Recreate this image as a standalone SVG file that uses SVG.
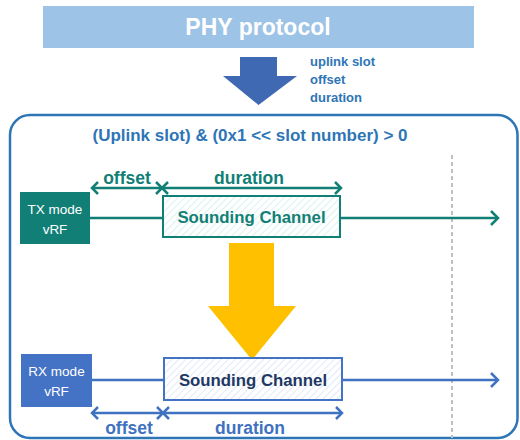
<svg xmlns="http://www.w3.org/2000/svg" width="520" height="440" viewBox="0 0 520 440">
<style>
text{font-family:"Liberation Sans",Arial,sans-serif;font-weight:bold}
.teal{fill:#127F76}
.blue{fill:#3F72C0}
.lbl{font-size:13.5px;font-weight:normal;fill:#fff}
.tl{stroke:#127F76;stroke-width:2.5;fill:none}
.bl{stroke:#3F72C0;stroke-width:2.5;fill:none}
</style>
<defs>
<pattern id="hT" width="5" height="5" patternUnits="userSpaceOnUse" patternTransform="rotate(45)">
<rect width="5" height="5" fill="#fff"/><line x1="0" y1="0" x2="0" y2="5" stroke="#CDEDEA" stroke-width="1.5"/>
</pattern>
<pattern id="hB" width="5" height="5" patternUnits="userSpaceOnUse" patternTransform="rotate(45)">
<rect width="5" height="5" fill="#fff"/><line x1="0" y1="0" x2="0" y2="5" stroke="#D6E3F3" stroke-width="1.5"/>
</pattern>
</defs>

<g id="phy">
<rect x="43" y="6" width="431" height="42" fill="#9DC3E6"/>
<text x="258" y="35" text-anchor="middle" font-size="23" fill="#fff">PHY protocol</text>
</g>

<g id="down-arrow">
<polygon points="240,57 277,57 277,76 297,76 258.5,105 223,76 240,76" fill="#4069B4"/>
<text x="310" y="66" font-size="13" fill="#2E75B6">uplink slot</text>
<text x="310" y="84" font-size="13" fill="#2E75B6">offset</text>
<text x="310" y="102" font-size="13" fill="#2E75B6">duration</text>
</g>

<g id="frame">
<rect x="10" y="115" width="507.5" height="323" rx="20" fill="none" stroke="#2E75B6" stroke-width="2.5"/>
<text x="250" y="141" text-anchor="middle" font-size="17" fill="#2E75B6">(Uplink slot) &amp; (0x1 &lt;&lt; slot number) &gt; 0</text>
<line x1="452" y1="155" x2="452" y2="438" stroke="#BFBFBF" stroke-width="2" stroke-dasharray="4,3"/>
</g>

<g id="connectors">
<line class="tl" x1="90" y1="218" x2="163" y2="218"/>
<line class="tl" x1="340" y1="218" x2="498" y2="218"/>
<polyline class="tl" points="491,211 498,218 491,225"/>
<line class="tl" x1="92" y1="188" x2="340" y2="188"/>
<polyline class="tl" points="98,182 92,188 98,194"/>
<polyline class="tl" points="156,182 162,188 156,194"/>
<polyline class="tl" points="168,182 162,188 168,194"/>
<polyline class="tl" points="335,182 341,188 335,194"/>

<line class="bl" x1="92" y1="380" x2="164" y2="380"/>
<line class="bl" x1="342" y1="380" x2="498" y2="380"/>
<polyline class="bl" points="491,373 498,380 491,387"/>
<line class="bl" x1="92" y1="413" x2="342" y2="413"/>
<polyline class="bl" points="98,407 92,413 98,419"/>
<polyline class="bl" points="157,407 163,413 157,419"/>
<polyline class="bl" points="169,407 163,413 169,419"/>
<polyline class="bl" points="336,407 342,413 336,419"/>
<polygon points="229,243 274,243 274,306 296,306 252,360 208,306 229,306" fill="#FFC000"/>
</g>

<g id="tx-labels">
<text x="127" y="184" text-anchor="middle" font-size="17.5" class="teal">offset</text>
<text x="249" y="184" text-anchor="middle" font-size="17.5" class="teal">duration</text>
</g>

<g id="tx-node">
<rect x="20" y="192" width="70" height="52" fill="#127F76"/>
<text x="55" y="214" text-anchor="middle" class="lbl">TX mode</text>
<text x="55" y="234" text-anchor="middle" class="lbl">vRF</text>
</g>

<g id="tx-sounding">
<rect x="163" y="196" width="177" height="41" fill="url(#hT)" stroke="#127F76" stroke-width="2"/>
<text x="251.5" y="223" text-anchor="middle" font-size="16.8" class="teal">Sounding Channel</text>
</g>

<g id="rx-node">
<rect x="21" y="354" width="71" height="53" fill="#4472C4"/>
<text x="56.5" y="376" text-anchor="middle" class="lbl">RX mode</text>
<text x="56.5" y="396" text-anchor="middle" class="lbl">vRF</text>
</g>

<g id="rx-sounding">
<rect x="164" y="358" width="178" height="42" fill="url(#hB)" stroke="#4472C4" stroke-width="2"/>
<text x="253" y="386" text-anchor="middle" font-size="16.8" fill="#1F3864">Sounding Channel</text>
</g>

<g id="rx-labels">
<text x="129" y="434" text-anchor="middle" font-size="17.5" class="blue">offset</text>
<text x="250" y="434" text-anchor="middle" font-size="17.5" class="blue">duration</text>
</g>
</svg>
